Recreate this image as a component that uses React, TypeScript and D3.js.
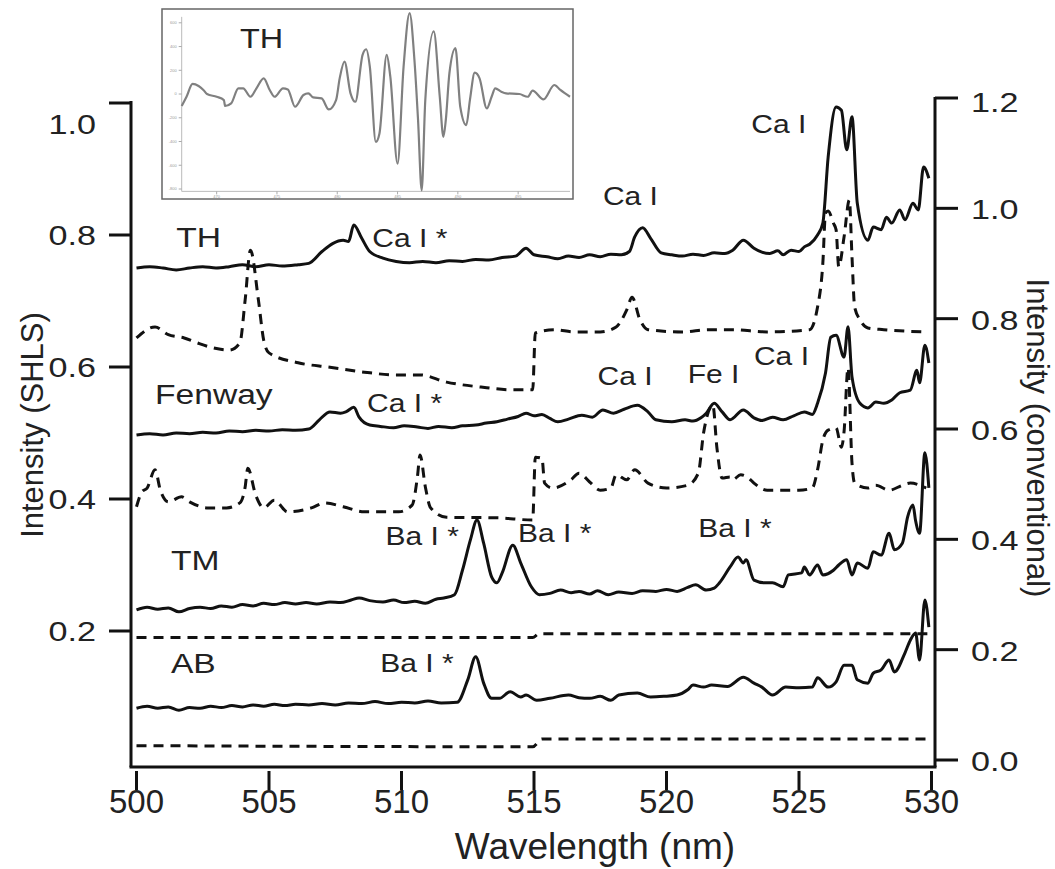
import React from 'react';
import * as d3 from 'd3';

const W = 1055;
const H = 869;

// spectra: [wavelength nm, intensity]; solid = SHLS (left axis), dashed = conventional (right axis)
const thShls: [number, number][] = [
  [500.0, 0.750], [500.5, 0.752], [501.0, 0.750], [501.5, 0.747], [502.0, 0.750], [502.5, 0.752],
  [503.0, 0.750], [503.5, 0.752], [504.0, 0.755], [504.5, 0.752], [505.0, 0.755], [505.5, 0.753],
  [506.1, 0.755], [506.5, 0.757], [507.0, 0.775], [507.4, 0.787], [507.8, 0.792], [508.0, 0.790],
  [508.2, 0.815], [508.5, 0.795], [508.8, 0.775], [509.3, 0.765], [509.8, 0.760], [510.3, 0.758],
  [510.8, 0.760], [511.3, 0.758], [511.8, 0.761], [512.3, 0.760], [512.8, 0.763], [513.3, 0.762],
  [513.8, 0.766], [514.3, 0.768], [514.7, 0.780], [515.0, 0.770], [515.5, 0.767], [515.9, 0.764],
  [516.3, 0.768], [516.7, 0.766], [517.1, 0.770], [517.5, 0.767], [517.9, 0.771], [518.3, 0.770],
  [518.6, 0.775], [518.8, 0.797], [519.1, 0.811], [519.4, 0.795], [519.8, 0.773], [520.2, 0.770],
  [520.6, 0.768], [521.0, 0.771], [521.4, 0.769], [521.8, 0.773], [522.2, 0.772], [522.5, 0.777],
  [522.9, 0.792], [523.3, 0.780], [523.6, 0.774], [523.9, 0.772], [524.2, 0.776], [524.4, 0.770],
  [524.7, 0.777], [525.0, 0.775], [525.2, 0.782], [525.4, 0.786], [525.7, 0.800], [525.9, 0.818],
  [526.1, 0.918], [526.4, 0.994], [526.6, 0.989], [526.8, 0.929], [527.0, 0.979], [527.2, 0.848],
  [527.6, 0.792], [527.8, 0.812], [528.1, 0.808], [528.3, 0.827], [528.5, 0.818], [528.8, 0.838],
  [529.0, 0.823], [529.3, 0.848], [529.5, 0.838], [529.7, 0.903], [529.9, 0.886],
];

const thConv: [number, number][] = [
  [500.0, 0.765], [500.7, 0.785], [501.2, 0.771], [501.8, 0.765], [502.3, 0.756], [502.9, 0.747],
  [503.5, 0.743], [503.9, 0.756], [504.1, 0.834], [504.3, 0.924], [504.6, 0.834], [504.8, 0.761],
  [505.0, 0.738], [506.1, 0.720], [507.3, 0.712], [508.6, 0.703], [509.8, 0.698], [510.7, 0.698],
  [511.7, 0.685], [513.0, 0.676], [514.2, 0.671], [514.95, 0.671], [515.05, 0.774], [515.8, 0.780],
  [516.5, 0.776], [517.5, 0.776], [518.1, 0.785], [518.5, 0.816], [518.7, 0.839], [519.0, 0.798],
  [519.3, 0.780], [520.6, 0.776], [521.6, 0.780], [522.5, 0.780], [523.8, 0.776], [525.4, 0.780],
  [525.7, 0.821], [525.9, 0.901], [526.0, 0.991], [526.1, 0.995], [526.3, 0.973], [526.4, 0.961],
  [526.5, 0.894], [526.7, 0.948], [526.9, 1.015], [527.0, 0.912], [527.1, 0.821], [527.3, 0.798],
  [527.6, 0.783], [528.2, 0.780], [529.8, 0.776],
];

const fenwayShls: [number, number][] = [
  [500.0, 0.497], [500.5, 0.499], [501.0, 0.497], [501.5, 0.500], [502.0, 0.499], [502.5, 0.501],
  [503.0, 0.500], [503.5, 0.503], [504.0, 0.502], [504.5, 0.504], [505.0, 0.503], [505.5, 0.505],
  [506.0, 0.504], [506.5, 0.506], [506.9, 0.520], [507.3, 0.532], [507.7, 0.530], [507.9, 0.532],
  [508.2, 0.539], [508.4, 0.524], [508.8, 0.512], [509.2, 0.510], [509.7, 0.508], [510.1, 0.511],
  [510.6, 0.509], [511.0, 0.507], [511.4, 0.510], [511.9, 0.508], [512.3, 0.511], [512.8, 0.512],
  [513.2, 0.515], [513.6, 0.517], [514.0, 0.521], [514.4, 0.525], [514.7, 0.530], [515.0, 0.526],
  [515.3, 0.528], [515.6, 0.522], [515.9, 0.517], [516.3, 0.521], [516.8, 0.527], [517.2, 0.524],
  [517.6, 0.535], [518.0, 0.530], [518.4, 0.536], [518.9, 0.542], [519.3, 0.532], [519.6, 0.520],
  [520.2, 0.517], [520.7, 0.520], [521.0, 0.518], [521.3, 0.523], [521.5, 0.530], [521.8, 0.545],
  [522.1, 0.532], [522.4, 0.520], [522.9, 0.535], [523.3, 0.523], [523.6, 0.519], [524.0, 0.524],
  [524.4, 0.520], [524.8, 0.526], [525.2, 0.532], [525.5, 0.528], [525.7, 0.545], [526.0, 0.591],
  [526.2, 0.645], [526.4, 0.648], [526.7, 0.615], [526.85, 0.661], [527.0, 0.585], [527.3, 0.545],
  [527.6, 0.538], [527.9, 0.547], [528.2, 0.545], [528.5, 0.550], [528.8, 0.561], [529.2, 0.565],
  [529.45, 0.595], [529.55, 0.576], [529.75, 0.633], [529.9, 0.606],
];

const fenwayConv: [number, number][] = [
  [500.0, 0.459], [500.2, 0.486], [500.4, 0.493], [500.7, 0.526], [500.9, 0.489], [501.2, 0.468],
  [501.7, 0.477], [502.0, 0.468], [502.7, 0.457], [503.4, 0.457], [503.9, 0.466], [504.1, 0.495],
  [504.2, 0.529], [504.5, 0.480], [504.8, 0.457], [505.2, 0.471], [505.7, 0.450], [506.6, 0.457],
  [507.1, 0.466], [507.8, 0.459], [508.6, 0.450], [509.9, 0.450], [510.4, 0.462], [510.6, 0.513],
  [510.7, 0.553], [510.9, 0.495], [511.1, 0.457], [511.7, 0.440], [513.6, 0.439], [514.95, 0.435],
  [515.05, 0.549], [515.3, 0.547], [515.4, 0.502], [515.7, 0.493], [516.4, 0.508], [516.7, 0.520],
  [517.1, 0.504], [517.5, 0.489], [517.9, 0.493], [518.1, 0.517], [518.5, 0.508], [518.8, 0.526],
  [519.3, 0.502], [520.0, 0.493], [520.8, 0.498], [521.2, 0.520], [521.4, 0.593], [521.75, 0.643],
  [521.9, 0.567], [522.1, 0.511], [522.4, 0.513], [522.5, 0.508], [522.8, 0.517], [523.1, 0.511],
  [523.3, 0.502], [523.8, 0.489], [525.0, 0.489], [525.5, 0.493], [525.7, 0.526], [525.9, 0.580],
  [526.1, 0.598], [526.4, 0.602], [526.6, 0.567], [526.7, 0.595], [526.85, 0.711], [527.0, 0.538],
  [527.1, 0.502], [527.6, 0.493], [527.9, 0.498], [528.4, 0.489], [528.9, 0.498], [529.2, 0.502],
  [529.8, 0.493],
];

const tmShls: [number, number][] = [
  [500.0, 0.232], [500.4, 0.236], [500.8, 0.233], [501.2, 0.235], [501.6, 0.229], [502.0, 0.234],
  [502.4, 0.236], [502.8, 0.234], [503.2, 0.238], [503.6, 0.236], [504.0, 0.240], [504.4, 0.238],
  [504.8, 0.242], [505.2, 0.240], [505.6, 0.243], [506.0, 0.241], [506.4, 0.243], [506.8, 0.241],
  [507.3, 0.244], [507.7, 0.243], [508.1, 0.247], [508.4, 0.250], [508.8, 0.246], [509.3, 0.244],
  [509.7, 0.247], [510.1, 0.243], [510.5, 0.245], [510.9, 0.242], [511.3, 0.248], [511.6, 0.250],
  [512.0, 0.255], [512.3, 0.292], [512.6, 0.338], [512.85, 0.368], [513.1, 0.333], [513.4, 0.282],
  [513.6, 0.273], [513.8, 0.288], [514.2, 0.330], [514.5, 0.303], [514.9, 0.267], [515.2, 0.255],
  [515.6, 0.257], [516.0, 0.262], [516.4, 0.258], [516.7, 0.260], [517.1, 0.256], [517.4, 0.261],
  [517.8, 0.255], [518.2, 0.259], [518.7, 0.257], [519.1, 0.261], [519.6, 0.260], [520.0, 0.263],
  [520.4, 0.260], [520.8, 0.266], [521.1, 0.270], [521.5, 0.262], [521.8, 0.265], [522.0, 0.273],
  [522.4, 0.297], [522.7, 0.312], [522.9, 0.303], [523.0, 0.308], [523.3, 0.277], [523.7, 0.273],
  [524.0, 0.273], [524.4, 0.267], [524.6, 0.285], [525.1, 0.288], [525.2, 0.297], [525.4, 0.285],
  [525.7, 0.300], [525.9, 0.285], [526.3, 0.292], [526.5, 0.300], [526.8, 0.308], [527.0, 0.285],
  [527.2, 0.303], [527.6, 0.295], [527.8, 0.320], [528.1, 0.315], [528.4, 0.348], [528.6, 0.323],
  [528.9, 0.333], [529.1, 0.373], [529.3, 0.391], [529.4, 0.367], [529.55, 0.348], [529.75, 0.470],
  [529.9, 0.417],
];

const tmConv: [number, number][] = [
  [500.0, 0.222], [514.95, 0.222], [515.2, 0.229], [530.0, 0.229],
];

const abShls: [number, number][] = [
  [500.0, 0.083], [500.4, 0.086], [500.8, 0.083], [501.2, 0.085], [501.6, 0.080], [502.0, 0.084],
  [502.4, 0.083], [502.8, 0.086], [503.2, 0.084], [503.6, 0.087], [504.0, 0.085], [504.4, 0.088],
  [504.8, 0.086], [505.2, 0.089], [505.6, 0.087], [506.0, 0.089], [506.5, 0.088], [507.0, 0.090],
  [507.5, 0.088], [508.0, 0.091], [508.5, 0.090], [509.0, 0.093], [509.5, 0.090], [510.0, 0.092],
  [510.5, 0.091], [511.0, 0.094], [511.5, 0.091], [512.1, 0.092], [512.5, 0.126], [512.8, 0.161],
  [513.1, 0.121], [513.4, 0.098], [513.7, 0.098], [514.1, 0.108], [514.5, 0.100], [514.7, 0.103],
  [515.1, 0.095], [515.6, 0.098], [516.3, 0.103], [516.7, 0.099], [517.1, 0.098], [517.5, 0.101],
  [517.9, 0.095], [518.2, 0.103], [518.9, 0.106], [519.4, 0.100], [519.9, 0.101], [520.4, 0.103],
  [520.8, 0.111], [521.0, 0.118], [521.4, 0.115], [521.7, 0.118], [522.3, 0.116], [522.9, 0.130],
  [523.3, 0.121], [523.6, 0.115], [524.0, 0.103], [524.5, 0.115], [525.0, 0.114], [525.5, 0.115],
  [525.7, 0.129], [526.1, 0.115], [526.4, 0.123], [526.7, 0.148], [527.0, 0.148], [527.2, 0.126],
  [527.6, 0.121], [527.8, 0.136], [528.1, 0.141], [528.4, 0.156], [528.6, 0.138], [529.0, 0.167],
  [529.2, 0.186], [529.4, 0.197], [529.55, 0.156], [529.75, 0.247], [529.9, 0.206],
];

const abConv: [number, number][] = [
  [500.0, 0.026], [514.95, 0.024], [515.3, 0.038], [530.0, 0.038],
];

// inset: TH trace (wavelength, arbitrary units)
const insetTH: [number, number][] = [
  [467.1, -101], [467.5, -23], [468.0, 85], [468.5, 68], [468.9, 34], [469.2, 0], [470.0, -23],
  [470.6, -51], [470.7, -101], [471.2, -79], [471.8, 48], [472.2, 48], [472.8, -23], [473.3, 48],
  [473.9, 132], [474.4, 34], [474.8, -23], [475.5, 48], [475.9, 39], [476.5, -107], [477.2, -8],
  [477.6, 6], [478.0, -28], [478.7, -37], [479.3, -130], [479.9, -51], [480.2, 132], [480.6, 273],
  [481.1, 6], [481.5, -65], [482.1, 330], [482.4, 377], [482.7, 231], [483.2, -403], [483.5, -332],
  [484.1, 330], [484.4, 146], [485.0, -586], [485.5, 231], [486.0, 682], [486.4, 287], [486.7, -220],
  [487.0, -811], [487.3, -51], [488.0, 527], [488.5, -23], [488.8, -361], [489.0, -220], [489.3, 175],
  [489.8, 386], [490.2, -107], [490.7, -262], [491.0, -51], [491.4, 180], [491.8, 132], [492.4, -121],
  [492.8, -23], [493.1, 48], [493.6, 20], [494.0, 6], [495.1, 0], [495.8, -23], [496.2, 28],
  [497.1, -45], [498.0, 76], [498.5, 34], [499.3, -23],
];

const xTicks = [500, 505, 510, 515, 520, 525, 530];
const leftTicks = [0.2, 0.4, 0.6, 0.8, 1.0];
const rightTicks = [0.0, 0.2, 0.4, 0.6, 0.8, 1.0, 1.2];
const insetXTicks = [470, 475, 480, 485, 490, 495];
const insetYTicks = [600, 400, 200, 0, -200, -400, -600, -800];

// sample names and line labels, anchored in (wavelength, SHLS intensity)
const sampleNames: [string, number, number][] = [
  ['TH', 501.5, 0.782], ['Fenway', 500.7, 0.544], ['TM', 501.3, 0.292], ['AB', 501.3, 0.136],
];
const lineLabels: [string, number, number][] = [
  ['Ca I *', 508.9, 0.782], ['Ca I', 517.6, 0.845], ['Ca I', 523.2, 0.955],
  ['Ca I *', 508.7, 0.532], ['Ca I', 517.4, 0.573], ['Fe I', 520.8, 0.576], ['Ca I', 523.3, 0.603],
  ['Ba I *', 509.4, 0.330], ['Ba I *', 514.4, 0.335], ['Ba I *', 521.2, 0.342],
  ['Ba I *', 509.2, 0.138],
];

const FONT = 'Liberation Sans, Arial, Helvetica, sans-serif';

export default function App() {
  const x = d3.scaleLinear().domain([500, 530]).range([136.5, 931.5]);
  const yL = d3.scaleLinear().domain([0, 1]).range([763, 103]);
  const yR = d3.scaleLinear().domain([0, 1.2]).range([760, 98]);

  const lineL = d3.line<[number, number]>().x(d => x(d[0])).y(d => yL(d[1])).curve(d3.curveMonotoneX);
  const lineR = d3.line<[number, number]>().x(d => x(d[0])).y(d => yR(d[1])).curve(d3.curveMonotoneX);

  const ix = d3.scaleLinear().domain([467.1, 499.3]).range([181.7, 570]);
  const iy = d3.scaleLinear().domain([-800, 600]).range([189, 22.8]);
  const insetLine = d3.line<[number, number]>().x(d => ix(d[0])).y(d => iy(d[1])).curve(d3.curveMonotoneX);

  const frameLeft = 131;
  const frameRight = 935;
  const frameBottom = 767;

  return (
    <svg width={W} height={H} style={{ position: 'absolute', left: 0, top: 0, background: '#fff' }}
      fontFamily={FONT}>
      <rect width={W} height={H} fill="#fff" />

      {/* frame */}
      <g stroke="#111" strokeWidth={3} fill="none">
        <line x1={frameLeft} y1={yL(1.0) - 2} x2={frameLeft} y2={frameBottom} />
        <line x1={frameRight} y1={yR(1.2) - 1} x2={frameRight} y2={frameBottom} />
        <line x1={frameLeft - 1.5} y1={frameBottom} x2={frameRight + 1.5} y2={frameBottom} />
      </g>

      {/* left axis */}
      {leftTicks.map(t => (
        <g key={'l' + t}>
          <line x1={frameLeft - 22} x2={frameLeft} y1={yL(t)} y2={yL(t)} stroke="#111" strokeWidth={3} />
          <text transform={`translate(96,${yL(t) + (t === 1.0 ? 21 : 0)}) scale(1.22,1)`} textAnchor="end"
            dy="0.36em" fontSize={28} fill="#222">{t.toFixed(1)}</text>
        </g>
      ))}
      <text transform={`translate(43,${425}) rotate(-90)`} textAnchor="middle" fontSize={31} fill="#222">
        Intensity (SHLS)
      </text>

      {/* right axis */}
      {rightTicks.map(t => (
        <g key={'r' + t}>
          <line x1={frameRight} x2={frameRight + 23} y1={yR(t)} y2={yR(t)} stroke="#111" strokeWidth={3} />
          <text transform={`translate(971,${yR(t) + (t === 1.2 ? 4 : 1)}) scale(1.22,1)`} textAnchor="start"
            dy="0.36em" fontSize={28} fill="#222">{t.toFixed(1)}</text>
        </g>
      ))}
      <text transform={`translate(1027,${438}) rotate(90)`} textAnchor="middle" fontSize={31} fill="#222">
        Intensity (conventional)
      </text>

      {/* x axis */}
      {xTicks.map(t => (
        <g key={'x' + t}>
          <line x1={x(t)} x2={x(t)} y1={frameBottom + 4} y2={frameBottom + 23} stroke="#111" strokeWidth={3} />
          <text x={x(t)} y={813} textAnchor="middle" fontSize={33} fill="#222">{t}</text>
        </g>
      ))}
      <text x={595} y={859} textAnchor="middle" fontSize={37} fill="#222">Wavelength (nm)</text>

      {/* spectra */}
      <g fill="none" stroke="#111" strokeWidth={3} strokeLinejoin="round">
        <path d={lineL(thShls) ?? ''} />
        <path d={lineL(fenwayShls) ?? ''} />
        <path d={lineL(tmShls) ?? ''} />
        <path d={lineL(abShls) ?? ''} />
      </g>
      <g fill="none" stroke="#111" strokeWidth={3} strokeDasharray="10 7">
        <path d={lineR(thConv) ?? ''} />
        <path d={lineR(fenwayConv) ?? ''} />
        <path d={lineR(tmConv) ?? ''} />
        <path d={lineR(abConv) ?? ''} />
      </g>

      {/* labels */}
      {sampleNames.map(([s, w, v]) => (
        <text key={s} transform={`translate(${x(w)},${yL(v)}) scale(1.2,1)`} fontSize={28} fill="#222">{s}</text>
      ))}
      {lineLabels.map(([s, w, v], i) => (
        <text key={i} transform={`translate(${x(w)},${yL(v)}) scale(1.2,1)`} fontSize={25} fill="#222">{s}</text>
      ))}

      {/* inset */}
      <g>
        <rect x={162} y={9} width={411} height={190} fill="#fff" stroke="#666" strokeWidth={1.5} />
        <line x1={ix.range()[0]} x2={ix.range()[0]} y1={iy(650)} y2={iy(-820)} stroke="#bbb" strokeWidth={1} />
        <line x1={ix.range()[0]} x2={ix.range()[1]} y1={iy(-820)} y2={iy(-820)} stroke="#bbb" strokeWidth={1} />
        {insetYTicks.map(t => (
          <g key={'iy' + t}>
            <line x1={ix.range()[0] - 3} x2={ix.range()[0]} y1={iy(t)} y2={iy(t)} stroke="#aaa" strokeWidth={1} />
            <text x={ix.range()[0] - 5} y={iy(t)} dy="0.35em" textAnchor="end" fontSize={4} fill="#999">{t}</text>
          </g>
        ))}
        {insetXTicks.map(t => (
          <g key={'ix' + t}>
            <line x1={ix(t)} x2={ix(t)} y1={iy(-820)} y2={iy(-820) + 3} stroke="#aaa" strokeWidth={1} />
            <text x={ix(t)} y={iy(-820) + 7} textAnchor="middle" fontSize={4} fill="#999">{t}</text>
          </g>
        ))}
        <path d={insetLine(insetTH) ?? ''} fill="none" stroke="#808080" strokeWidth={2.2} strokeLinejoin="round" />
        <text transform={`translate(240,48) scale(1.2,1)`} fontSize={27} fill="#222">TH</text>
      </g>
    </svg>
  );
}
